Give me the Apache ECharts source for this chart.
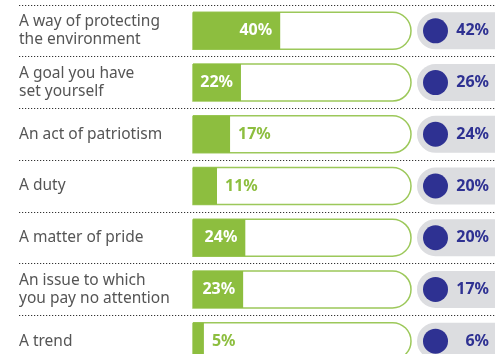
<!DOCTYPE html>
<html>
<head>
<meta charset="utf-8">
<script src="https://cdn.jsdelivr.net/npm/echarts@6/dist/echarts.min.js"></script>
<style>
  html, body { margin: 0; padding: 0; background: #fff; }
  #chart { width: 495px; height: 354px; }
</style>
</head>
<body>
<div id="chart"></div>
<script>
const categories = [
  "A way of protecting\nthe environment",
  "A goal you have\nset yourself",
  "An act of patriotism",
  "A duty",
  "A matter of pride",
  "An issue to which\nyou pay no attention",
  "A trend",
];
const greenValues = [40, 22, 17, 11, 24, 23, 5];
const blueValues = [42, 26, 24, 20, 20, 17, 6];

const GREEN = "#8dbe3f";
const BLUE = "#2e3192";
const FONT = "Noto Sans";

const chart = echarts.init(document.getElementById("chart"));

// rows run past the bottom edge, so the grids are taller than the canvas
const option = {
  animation: false,
  grid: [
    { left: 193, top: 5, width: 218, height: 362, outerBoundsMode: "none" },
    { left: 417, top: 5, width: 100, height: 362, outerBoundsMode: "none" },
    { left: 19, top: 5, width: 476, height: 362, outerBoundsMode: "none" },
  ],
  xAxis: [
    { gridIndex: 0, type: "value", min: 0, max: 100, show: false },
    { gridIndex: 1, type: "value", min: 0, max: 100, show: false },
    { gridIndex: 2, type: "value", show: false },
  ],
  yAxis: [
    { gridIndex: 0, type: "category", data: categories, inverse: true, show: false },
    { gridIndex: 1, type: "category", data: categories, inverse: true, show: false },
    {
      gridIndex: 2,
      type: "category",
      data: categories,
      inverse: true,
      axisLine: { show: false },
      axisTick: { show: false },
      axisLabel: {
        inside: true,
        margin: 0,
        interval: 0,
        color: "#555",
        fontSize: 15.5,
        lineHeight: 18,
        fontFamily: FONT,
      },
      splitLine: {
        show: true,
        interval: 0,
        lineStyle: { type: [1.2, 1.8], color: "#333", width: 1.2 },
      },
    },
  ],
  series: [
    {
      type: "bar",
      xAxisIndex: 0,
      yAxisIndex: 0,
      barWidth: 37,
      data: greenValues.map((v) => ({
        value: v,
        label:
          v >= 20
            ? { position: "insideRight", color: "#fff" }
            : { position: "right", color: GREEN },
      })),
      itemStyle: { color: GREEN },
      showBackground: true,
      backgroundStyle: {
        color: "#fff",
        borderColor: "#9cc85a",
        borderWidth: 1.5,
        borderRadius: [0, 18.5, 18.5, 0],
      },
      label: {
        show: true,
        formatter: "{c}%",
        distance: 8,
        fontSize: 16,
        fontWeight: "bold",
        fontFamily: FONT,
      },
    },
    {
      type: "bar",
      xAxisIndex: 1,
      yAxisIndex: 1,
      barWidth: 37,
      data: blueValues,
      itemStyle: { color: "rgba(0,0,0,0)" },
      showBackground: true,
      backgroundStyle: {
        color: "#dcdde0",
        borderRadius: [18.5, 0, 0, 18.5],
      },
      label: {
        show: true,
        position: "insideLeft",
        distance: 6,
        formatter: (p) => "{c|}{v|" + p.value + "%}",
        rich: {
          c: {
            width: 25,
            height: 25,
            borderRadius: 12.5,
            backgroundColor: BLUE,
          },
          v: {
            width: 41,
            align: "right",
            color: BLUE,
            fontSize: 16,
            fontWeight: "bold",
            fontFamily: FONT,
          },
        },
      },
    },
  ],
};

chart.setOption(option);
</script>
</body>
</html>
